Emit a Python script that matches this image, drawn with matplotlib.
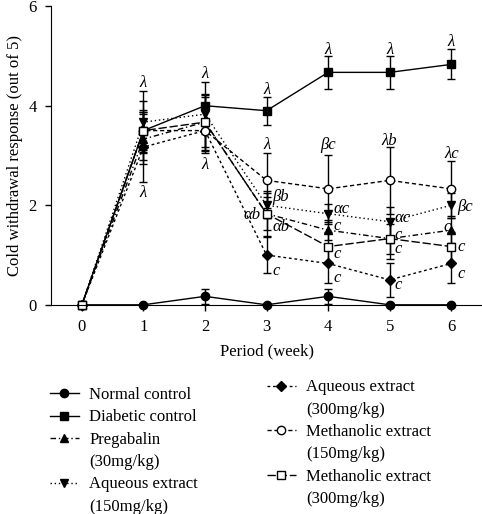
import matplotlib
matplotlib.use("Agg")
import matplotlib.pyplot as plt
from matplotlib.lines import Line2D

plt.rcParams['font.family'] = ['Liberation Serif', 'DejaVu Serif']

weeks = [0, 1, 2, 3, 4, 5, 6]

normal = [0, 0, 0.17, 0, 0.17, 0, 0]
normal_err = [0, 0, 0.15, 0, 0.15, 0, 0]
diabetic = [0, 3.5, 4.0, 3.9, 4.67, 4.67, 4.83]
diabetic_err = [0, 0.42, 0.47, 0.28, 0.33, 0.33, 0.3]
pregabalin = [0, 3.33, 3.67, 1.83, 1.5, 1.33, 1.5]
pregabalin_err = [0, 0.5, 0.5, 0.33, 0.2, 0.3, 0.25]
aq150 = [0, 3.67, 3.83, 2.0, 1.83, 1.67, 2.0]
aq150_err = [0, 0.63, 0.4, 0.25, 0.2, 0.3, 0.25]
aq300 = [0, 3.17, 3.5, 1.0, 0.83, 0.5, 0.83]
aq300_err = [0, 0.7, 0.45, 0.37, 0.4, 0.34, 0.4]
meth150 = [0, 3.5, 3.5, 2.5, 2.33, 2.5, 2.33]
meth150_err = [0, 0.38, 0.4, 0.55, 0.67, 0.67, 0.55]
meth300 = [0, 3.5, 3.67, 1.83, 1.17, 1.33, 1.17]
meth300_err = [0, 0.59, 0.55, 0.45, 0.3, 0.4, 0.3]

series = [
    (normal, normal_err, '-', 'o', 'k', "Normal control"),
    (diabetic, diabetic_err, '-', 's', 'k', "Diabetic control"),
    (pregabalin, pregabalin_err, (0, (4, 2, 1, 2)), '^', 'k', "Pregabalin"),
    (aq150, aq150_err, (0, (1, 2)), 'v', 'k', "Aqueous extract"),
    (aq300, aq300_err, (0, (2, 2)), 'D', 'k', "Aqueous extract"),
    (meth150, meth150_err, (0, (3, 2)), 'o', 'w', "Methanolic extract"),
    (meth300, meth300_err, (0, (6, 2)), 's', 'w', "Methanolic extract"),
]

# significance labels: (week, y, text, ha)
labels = [
    (1, 4.46, "λ", "center"), (1, 2.25, "λ", "center"),
    (2, 4.64, "λ", "center"), (2, 2.81, "λ", "center"),
    (3, 4.32, "λ", "center"), (3, 3.21, "λ", "center"),
    (3.09, 2.17, "βb", "left"), (2.9, 1.81, "αb", "right"),
    (3.09, 1.57, "αb", "left"), (3.09, 0.68, "c", "left"),
    (4, 5.12, "λ", "center"), (4, 3.21, "βc", "center"),
    (4.08, 1.93, "αc", "left"), (4.08, 1.59, "c", "left"),
    (4.08, 1.02, "c", "left"), (4.08, 0.54, "c", "left"),
    (5, 5.12, "λ", "center"), (5, 3.29, "λb", "center"),
    (5.08, 1.74, "αc", "left"), (5.08, 1.41, "c", "left"),
    (5.08, 1.12, "c", "left"), (5.08, 0.4, "c", "left"),
    (6, 5.28, "λ", "center"), (6, 3.03, "λc", "center"),
    (6.1, 1.97, "βc", "left"), (5.93, 1.57, "c", "center"),
    (6.1, 1.17, "c", "left"), (6.1, 0.62, "c", "left"),
]

fig = plt.figure(figsize=(4.82, 5.14), dpi=100)
ax = fig.add_axes([0.106, 0.407, 0.894, 0.581])

handles = []
for vals, err, ls, mk, fc, name in series:
    ax.errorbar(weeks, vals, yerr=err, color='k', ls=ls, lw=1.0,
                marker=mk, ms=6 if mk != 'D' else 5, mfc=fc, mec='k', mew=1.0,
                capsize=3, elinewidth=1.0, capthick=1.0, clip_on=False)
    handles.append(Line2D([], [], color='k', ls=ls, lw=1.0, marker=mk,
                          ms=6 if mk != 'D' else 5, mfc=fc, mec='k'))

for x, y, t, ha in labels:
    ax.text(x, y, t, ha=ha, va='center', fontsize=12, fontstyle='italic')

ax.set_xlim(-0.5, 6.5)
ax.set_ylim(0, 6)
ax.set_xticks(weeks)
ax.set_yticks([0, 2, 4, 6])
ax.spines['top'].set_visible(False)
ax.spines['right'].set_visible(False)
ax.tick_params(labelsize=12, length=4.5, width=1, pad=6)
ax.set_xlabel("Period (week)", fontsize=12, labelpad=6)
ax.set_ylabel("Cold withdrawal response (out of 5)", fontsize=12, labelpad=4)

blank = Line2D([], [], color='none')
left_h = [handles[0], handles[1], handles[2], blank, handles[3], blank]
left_l = ["Normal control", "Diabetic control", "Pregabalin", "(30mg/kg)",
          "Aqueous extract", "(150mg/kg)"]
right_h = [handles[4], blank, handles[5], blank, handles[6], blank]
right_l = ["Aqueous extract", "(300mg/kg)", "Methanolic extract", "(150mg/kg)",
           "Methanolic extract", "(300mg/kg)"]

fig.legend(left_h, left_l, loc='upper left', bbox_to_anchor=(0.087, 0.263),
           frameon=False, fontsize=12, handlelength=1.7,
           labelspacing=0.38, handletextpad=0.65, borderpad=0)
fig.legend(right_h, right_l, loc='upper left', bbox_to_anchor=(0.537, 0.278),
           frameon=False, fontsize=12, handlelength=1.7,
           labelspacing=0.38, handletextpad=0.65, borderpad=0)

fig.savefig("out.png", dpi=100)
